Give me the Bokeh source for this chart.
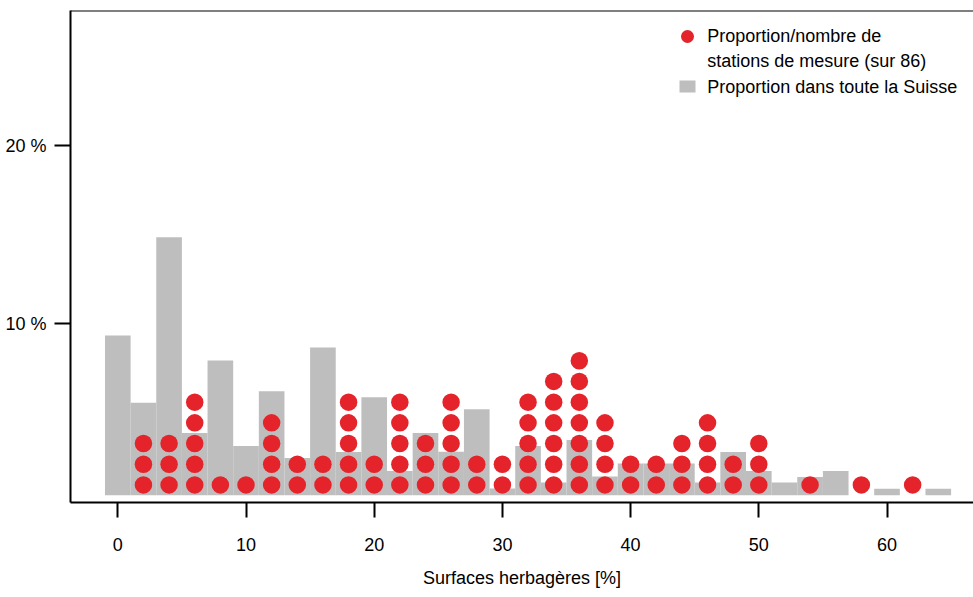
from bokeh.plotting import figure
from bokeh.models import Range1d, FixedTicker, Span, Label
from bokeh.embed import file_html
from bokeh.resources import INLINE

FONT = "Liberation Sans"
FS = "18px"
RED = "#E4232A"
GREY = "#BEBEBE"

# ---- data ----
bar_x = list(range(0, 66, 2))
bar_pct = [8.97, 5.2, 14.5, 3.5, 7.57, 2.77, 5.84, 2.1, 8.3, 2.43, 5.5,
           1.37, 3.5, 2.45, 4.83, 0.38, 2.77, 0.72, 3.1, 1.05, 1.78, 1.78,
           1.78, 0.72, 2.43, 1.37, 0.72, 1.03, 1.37, 0.0, 0.36, 0.0, 0.36]
station_x = [2, 4, 6, 8, 10, 12, 14, 16, 18, 20, 22, 24, 26, 28, 30, 32, 34,
             36, 38, 40, 42, 44, 46, 48, 50, 54, 58, 62]
station_n = [3, 3, 5, 1, 1, 4, 2, 2, 5, 2, 5, 3, 5, 2, 2, 5, 6, 7, 4, 2, 2,
             3, 4, 2, 3, 1, 1, 1]
N_STATIONS = 86
x_ticks = [0, 10, 20, 30, 40, 50, 60]
y_ticks = [10, 20]
y_tick_labels = {10: "10 %", 20: "20 %"}
x_title = "Surfaces herbagères [%]"
legend_dot_lines = ["Proportion/nombre de", "stations de mesure (sur 86)"]
legend_bar_label = "Proportion dans toute la Suisse"

# ---- layout constants ----
BASE = 0.35            # baseline offset of bars/dots
FRAME_L, FRAME_T, FRAME_W, FRAME_H = 70, 10, 903, 492
X0 = -3.69
X1 = X0 + FRAME_W / 12.82
Y0 = -0.056
Y1 = Y0 + FRAME_H / 17.8


def px2x(px):
    return X0 + (px - FRAME_L) / FRAME_W * (X1 - X0)


def px2y(py):
    return Y1 - (py - FRAME_T) / FRAME_H * (Y1 - Y0)


p = figure(width=973, height=597, x_range=Range1d(X0, X1), y_range=Range1d(Y0, Y1),
           output_backend="svg", toolbar_location=None,
           min_border_left=70, min_border_right=0, min_border_top=10, min_border_bottom=95)
p.outline_line_color = None
p.grid.visible = False
p.background_fill_color = "white"
p.border_fill_color = "white"

# bars
p.vbar(x=bar_x, width=2, bottom=BASE, top=[BASE + v for v in bar_pct],
       fill_color=GREY, line_color=None)

# dots
dx, dy = [], []
step = 100.0 / N_STATIONS
for x, n in zip(station_x, station_n):
    for k in range(n):
        dx.append(x)
        dy.append(BASE + (k + 0.5) * step)
p.scatter(dx, dy, size=17.5, fill_color=RED, line_color=None)

# axes
xa = p.xaxis[0]
xa.ticker = FixedTicker(ticks=x_ticks)
xa.axis_line_width = 2
xa.major_tick_line_width = 2
xa.major_tick_out = 15
xa.major_tick_in = 0
xa.minor_tick_out = 0
xa.minor_tick_in = 0
xa.major_label_text_font = FONT
xa.major_label_text_font_size = FS
xa.major_label_text_color = "black"
xa.major_label_standoff = 20
xa.axis_label = x_title
xa.axis_label_text_font = FONT
xa.axis_label_text_font_size = FS
xa.axis_label_text_font_style = "normal"
xa.axis_label_text_color = "black"
xa.axis_label_standoff = 14

ya = p.yaxis[0]
ya.ticker = FixedTicker(ticks=y_ticks)
ya.major_label_overrides = y_tick_labels
ya.axis_line_width = 2
ya.major_tick_line_width = 2
ya.major_tick_out = 16
ya.major_tick_in = 0
ya.minor_tick_out = 0
ya.minor_tick_in = 0
ya.major_label_text_font = FONT
ya.major_label_text_font_size = FS
ya.major_label_text_color = "black"
ya.major_label_standoff = 8

# top border line
p.add_layout(Span(location=Y1, dimension="width", line_color="black", line_width=2))

# legend
p.scatter([px2x(687)], [px2y(36)], size=13, fill_color=RED, line_color=None)
p.rect([px2x(687)], [px2y(86)], width=16, height=12, width_units="screen",
       height_units="screen", fill_color=GREY, line_color=None)
for txt, py in zip(legend_dot_lines + [legend_bar_label], [35.5, 60, 86]):
    p.add_layout(Label(x=px2x(706.7), y=px2y(py), text=txt, text_font=FONT,
                       text_font_size=FS, text_align="left",
                       text_baseline="alphabetic", text_color="black"))

open("out.html", "w").write(file_html(p, INLINE))
